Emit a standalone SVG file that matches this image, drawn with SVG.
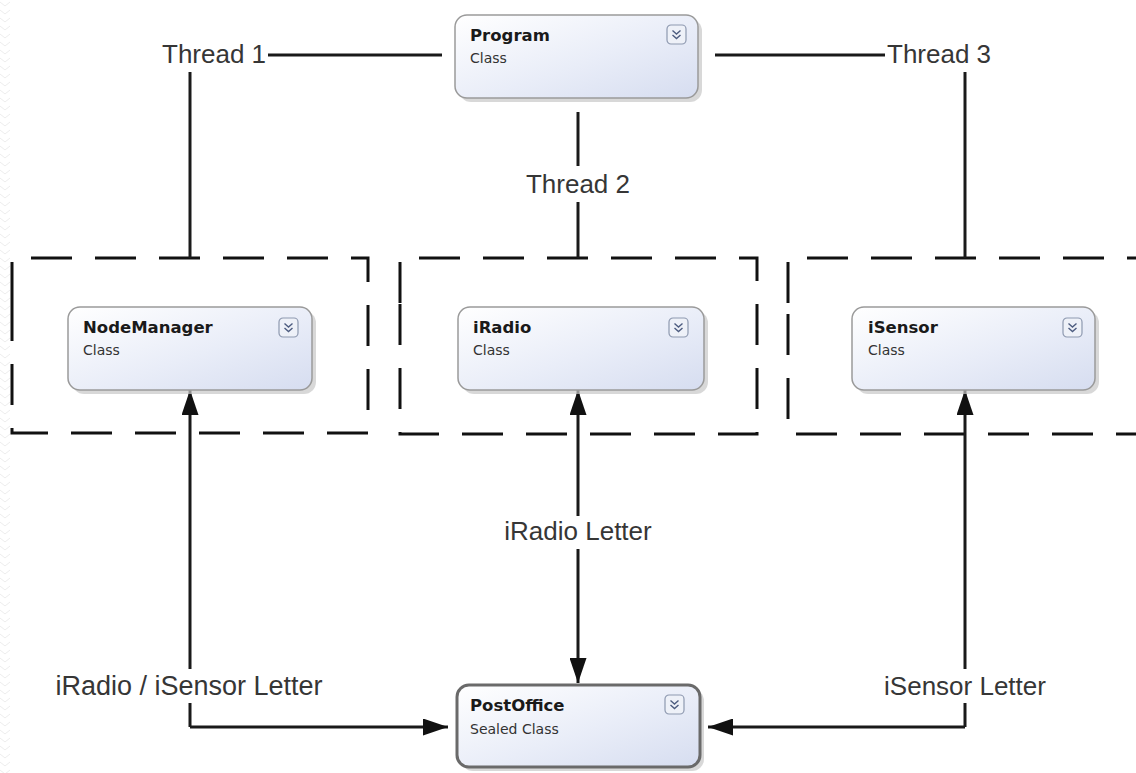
<svg xmlns="http://www.w3.org/2000/svg" width="1136" height="773" viewBox="0 0 1136 773">
  <style>
    .bg { fill: #ffffff; }
    .node-body { fill: url(#nodeFill); stroke: #9a9a9a; stroke-width: 1.5; }
    .node-body.sealed { stroke: #6a6a6a; stroke-width: 3; }
    .node-shadow { fill: #c8c8c8; opacity: 0.7; }
    .title { font-family: "DejaVu Sans", "Liberation Sans", sans-serif; font-weight: bold; font-size: 16.5px; fill: #1a1a1a; }
    .kind { font-family: "DejaVu Sans", "Liberation Sans", sans-serif; font-size: 14px; fill: #333333; }
    .label { font-family: "Liberation Sans", Arial, sans-serif; font-size: 26px; fill: #363636; }
    .label.wide { font-size: 27px; }
    .wire { fill: none; stroke: #1a1a1a; stroke-width: 3; }
    .thread-box { fill: none; stroke: #111111; stroke-width: 3; stroke-dasharray: 41 23; }
    .icon-box { fill: #eef1f8; stroke: #8e99b0; stroke-width: 1.2; }
    .icon-chev { fill: none; stroke: #4e5d80; stroke-width: 1.4; }
    .label-bg { fill: #ffffff; }
  </style>
  <defs>
    <linearGradient id="nodeFill" x1="0" y1="0" x2="1" y2="1">
      <stop offset="0" stop-color="#ffffff"/>
      <stop offset="0.55" stop-color="#e9edf8"/>
      <stop offset="1" stop-color="#d6ddf0"/>
    </linearGradient>
    <pattern id="edgeWave" width="10" height="8" patternUnits="userSpaceOnUse">
      <path d="M0,2 L5,6 L10,2" fill="none" stroke="#ececec" stroke-width="1"/>
    </pattern>
    <marker id="arrow" viewBox="0 0 25 17" refX="25" refY="8.5" markerWidth="25" markerHeight="17" markerUnits="userSpaceOnUse" orient="auto-start-reverse">
      <path d="M0,0 L25,8.5 L0,17 Z" fill="#111111"/>
    </marker>
    <g id="expander">
      <rect class="icon-box" x="0" y="0" width="19" height="19" rx="4"/>
      <path class="icon-chev" d="M5.5,5.5 L9.5,9 L13.5,5.5 M5.5,10 L9.5,13.5 L13.5,10"/>
    </g>
  </defs>

  <rect class="bg" x="0" y="0" width="1136" height="773"/>
  <rect x="0" y="0" width="10" height="773" fill="url(#edgeWave)"/>

  <!-- thread regions -->
  <g id="thread-regions">
    <path class="thread-box" d="M12,303 V258 H368 V433 H12 Z"/>
    <path class="thread-box" d="M400,303 V258 H757 V434 H400 Z"/>
    <path class="thread-box" d="M788,303 V258 H1150 V434 H788 Z"/>
  </g>

  <!-- connectors -->
  <g id="connectors">
    <!-- thread links from Program -->
    <path class="wire" d="M268,55 H442"/>
    <path class="wire" d="M190,72 V258"/>
    <path class="wire" d="M715,55 H885"/>
    <path class="wire" d="M965,72 V258"/>
    <path class="wire" d="M578,112 V166"/>
    <path class="wire" d="M578,202 V258"/>
    <!-- letters between nodes and PostOffice -->
    <path class="wire" d="M190,727 V390" marker-end="url(#arrow)"/>
    <path class="wire" d="M190,727 H448" marker-end="url(#arrow)"/>
    <path class="wire" d="M578,390 V683" marker-start="url(#arrow)" marker-end="url(#arrow)"/>
    <path class="wire" d="M965,727 V390" marker-end="url(#arrow)"/>
    <path class="wire" d="M965,727 H708" marker-end="url(#arrow)"/>

    <!-- connector labels -->
    <rect class="label-bg" x="500" y="516" width="156" height="33"/>
    <text class="label" x="578" y="540" text-anchor="middle">iRadio Letter</text>
    <rect class="label-bg" x="50" y="669" width="278" height="34"/>
    <text class="label wide" x="189" y="695" text-anchor="middle">iRadio / iSensor Letter</text>
    <rect class="label-bg" x="878" y="669" width="174" height="34"/>
    <text class="label" x="965" y="695" text-anchor="middle">iSensor Letter</text>
    <text class="label" x="162" y="63">Thread 1</text>
    <text class="label" x="887" y="63">Thread 3</text>
    <text class="label" x="578" y="193" text-anchor="middle">Thread 2</text>
  </g>

  <!-- nodes -->
  <g id="program">
    <rect class="node-shadow" x="459" y="19" width="243" height="83" rx="12"/>
    <rect class="node-body" x="455" y="15" width="243" height="83" rx="12"/>
    <text class="title" x="470" y="41">Program</text>
    <text class="kind" x="470" y="63">Class</text>
    <use href="#expander" x="667" y="25"/>
  </g>

  <g id="node-manager">
    <rect class="node-shadow" x="72" y="311" width="244" height="83" rx="12"/>
    <rect class="node-body" x="68" y="307" width="244" height="83" rx="12"/>
    <text class="title" x="83" y="333">NodeManager</text>
    <text class="kind" x="83" y="355">Class</text>
    <use href="#expander" x="279" y="318"/>
  </g>

  <g id="iradio">
    <rect class="node-shadow" x="462" y="311" width="246" height="83" rx="12"/>
    <rect class="node-body" x="458" y="307" width="246" height="83" rx="12"/>
    <text class="title" x="473" y="333">iRadio</text>
    <text class="kind" x="473" y="355">Class</text>
    <use href="#expander" x="669" y="318"/>
  </g>

  <g id="isensor">
    <rect class="node-shadow" x="856" y="311" width="243" height="83" rx="12"/>
    <rect class="node-body" x="852" y="307" width="243" height="83" rx="12"/>
    <text class="title" x="868" y="333">iSensor</text>
    <text class="kind" x="868" y="355">Class</text>
    <use href="#expander" x="1063" y="318"/>
  </g>

  <g id="post-office">
    <rect class="node-shadow" x="461" y="689" width="243" height="82" rx="12"/>
    <rect class="node-body sealed" x="457" y="685" width="243" height="82" rx="12"/>
    <text class="title" x="470" y="711">PostOffice</text>
    <text class="kind" x="470" y="734">Sealed Class</text>
    <use href="#expander" x="665" y="695"/>
  </g>
</svg>
